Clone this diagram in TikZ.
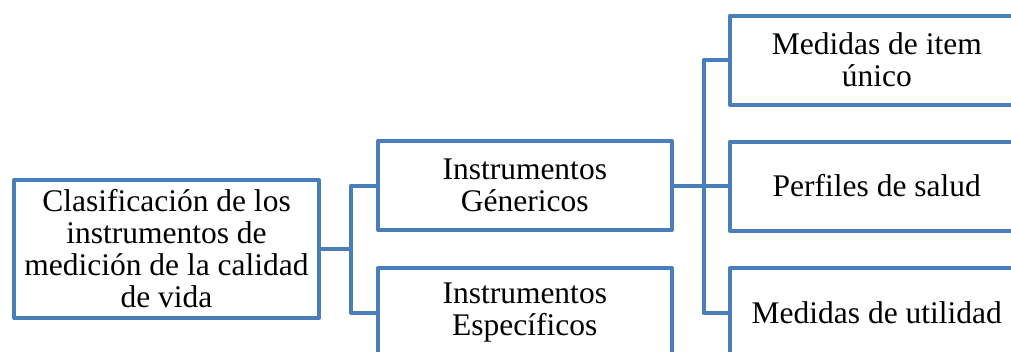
\documentclass[tikz,border=0pt]{standalone}
\usepackage{fontspec}
\setmainfont{Liberation Serif}
\definecolor{boxblue}{HTML}{4A7EBB}
\tikzset{
  box/.style={draw=boxblue, line width=4pt, line join=round, fill=white, align=center, inner sep=0pt,
    minimum width=293.5pt, minimum height=89pt, font=\fontsize{31.5}{32}\selectfont},
  link/.style={draw=boxblue, line width=4pt, line join=round}
}
\begin{document}
\begin{tikzpicture}[x=1pt,y=-1pt]
\useasboundingbox (0,0) rectangle (1011,351);
\clip (0,0) rectangle (1011,351);
\node[box, minimum width=305pt, minimum height=138pt] (root) at (166.5,249) {Clasificación de los\\instrumentos de\\medición de la calidad\\de vida};
\node[box] (gen) at (524.75,185.5) {Instrumentos\\Génericos};
\node[box] (esp) at (524.75,312.5) {Instrumentos\\Específicos};
\node[box] (item) at (876.75,60) {Medidas de item\\único};
\node[box] (perf) at (876.75,186) {Perfiles de salud};
\node[box] (util) at (876.75,312.5) {Medidas de utilidad};
\draw[link] (root.east) -- ++(30,0) coordinate (bus1);
\draw[link] (bus1) |- (gen.west);
\draw[link] (bus1) |- (esp.west);
\draw[link] (gen.east) -- ++(30,0) coordinate (bus2);
\draw[link] (bus2) |- (item.west);
\draw[link] (bus2) |- (perf.west);
\draw[link] (bus2) |- (util.west);
\end{tikzpicture}
\end{document}
